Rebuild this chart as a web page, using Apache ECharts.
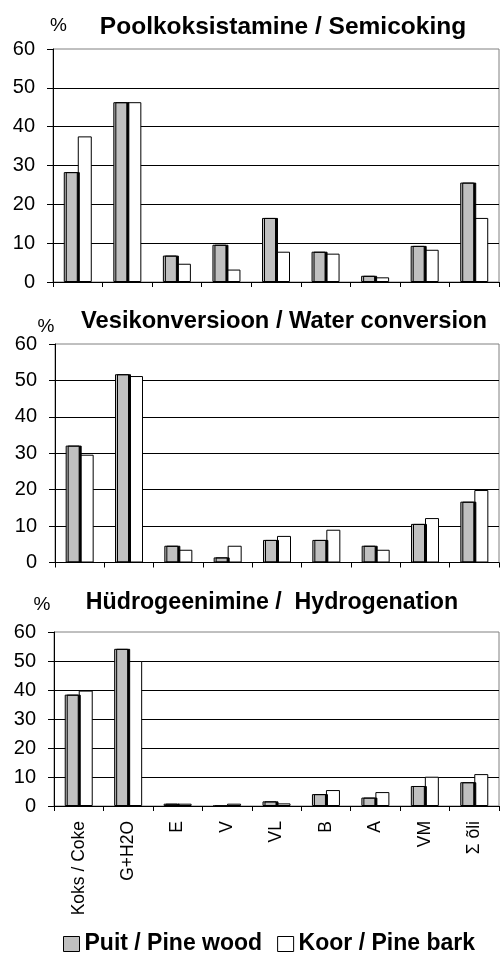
<!DOCTYPE html>
<html>
<head>
<meta charset="utf-8">
<script src="https://cdn.jsdelivr.net/npm/echarts@6/dist/echarts.min.js"></script>
<style>
  html, body { margin: 0; padding: 0; background: #fff; }
  #chart { width: 500px; height: 955px; }
</style>
</head>
<body>
<div id="chart"></div>
<script>
// Product yields (%) of pine wood and pine bark under three processes
const categories = ['Koks / Coke', 'G+H2O', 'E', 'V', 'VL', 'B', 'A', 'VM', 'Σ õli'];

const semicokingWood = [28.3, 46.3, 6.8, 9.6, 16.5, 7.8, 1.6, 9.3, 25.6];
const semicokingBark = [37.5, 46.3, 4.7, 3.2, 7.8, 7.3, 1.2, 8.3, 16.5];

const waterWood = [32.1, 51.7, 4.6, 1.4, 6.2, 6.2, 4.6, 10.6, 16.7];
const waterBark = [29.6, 51.2, 3.5, 4.6, 7.3, 9.0, 3.5, 12.2, 19.9];

const hydroWood = [38.4, 54.2, 0.8, 0, 1.6, 4.1, 2.9, 6.9, 8.2];
const hydroBark = [39.8, 50.0, 0.8, 0.8, 0.9, 5.5, 4.8, 10.1, 11.0];

const yMin = 0, yMax = 60, yStep = 10;

const panelTitles = ['Poolkoksistamine / Semicoking', 'Vesikonversioon / Water conversion', 'Hüdrogeenimine /  Hydrogenation'];
const seriesNames = ['Puit / Pine wood', 'Koor / Pine bark'];

const FONT = '"Liberation Sans", Arial, sans-serif';

const grids = [
  { left: 53, top: 49, right: 1, height: 233 },
  { left: 55, top: 344, right: 1, height: 218.5 },
  { left: 54, top: 632, right: 1, height: 174 }
];

const panels = [
  [semicokingWood, semicokingBark],
  [waterWood, waterBark],
  [hydroWood, hydroBark]
];

const xAxes = grids.map((g, i) => ({
  type: 'category',
  gridIndex: i,
  data: categories,
  axisLine: { lineStyle: { color: '#000', width: 1 } },
  axisTick: { show: true, length: 5, lineStyle: { color: '#000' } },
  axisLabel: {
    show: i === 2,
    rotate: 90,
    margin: 15,
    color: '#000',
    fontFamily: FONT,
    fontSize: 17.5
  },
  splitLine: { show: false }
}));

const yAxes = grids.map((g, i) => ({
  type: 'value',
  gridIndex: i,
  min: yMin,
  max: yMax,
  interval: yStep,
  axisLine: { show: true, lineStyle: { color: '#000', width: 1 } },
  axisTick: { show: true, length: 6, lineStyle: { color: '#000' } },
  axisLabel: { margin: 18, color: '#000', fontFamily: FONT, fontSize: 20 },
  splitLine: { show: true, showMaxLine: false, lineStyle: { color: '#000', width: 1 } }
}));

const woodStyle = {
  color: '#c0c0c0',
  borderColor: '#000',
  borderWidth: 1,
  shadowColor: '#000',
  shadowBlur: 0,
  shadowOffsetX: 2,
  shadowOffsetY: 0
};
const barkStyle = { color: '#ffffff', borderColor: '#000', borderWidth: 1 };

const series = [];
panels.forEach((pair, i) => {
  series.push({
    name: seriesNames[0],
    type: 'bar',
    xAxisIndex: i,
    yAxisIndex: i,
    data: pair[0],
    barWidth: 14,
    barGap: '0%',
    z: 3,
    itemStyle: woodStyle,
    emphasis: { disabled: true },
    animation: false
  });
  series.push({
    name: seriesNames[1],
    type: 'bar',
    xAxisIndex: i,
    yAxisIndex: i,
    data: pair[1],
    barWidth: 14,
    barGap: '0%',
    z: 2,
    itemStyle: barkStyle,
    emphasis: { disabled: true },
    animation: false
  });
});

// Panel titles and the "%" unit marks
const titleSpecs = [
  { x: 283, y: 27, size: 24.5 },
  { x: 284, y: 321.5, size: 23.7 },
  { x: 272, y: 603, size: 23.2 }
];
const unitSpecs = [
  { x: 58.5, y: 26 },
  { x: 46, y: 327 },
  { x: 42, y: 605 }
];

const graphics = [];
titleSpecs.forEach((t, i) => {
  graphics.push({
    type: 'text',
    x: t.x,
    y: t.y,
    style: {
      text: panelTitles[i],
      fill: '#000',
      font: `bold ${t.size}px ${FONT}`,
      textAlign: 'center',
      textVerticalAlign: 'middle'
    }
  });
});
unitSpecs.forEach((u) => {
  graphics.push({
    type: 'text',
    x: u.x,
    y: u.y,
    style: {
      text: '%',
      fill: '#000',
      font: `19px ${FONT}`,
      textAlign: 'center',
      textVerticalAlign: 'middle'
    }
  });
});

const chart = echarts.init(document.getElementById('chart'), null, { renderer: 'canvas' });
chart.setOption({
  animation: false,
  backgroundColor: '#fff',
  grid: grids.map(g => Object.assign({ show: true, borderColor: '#808080', borderWidth: 1, backgroundColor: 'transparent' }, g)),
  xAxis: xAxes,
  yAxis: yAxes,
  legend: {
    left: 63,
    top: 932,
    padding: 0,
    itemWidth: 16,
    itemHeight: 15,
    itemGap: 15,
    icon: 'rect',
    selectedMode: false,
    data: [
      { name: seriesNames[0], itemStyle: { color: '#c0c0c0', borderColor: '#000', borderWidth: 1, shadowColor: 'transparent', shadowOffsetX: 0 } },
      { name: seriesNames[1], itemStyle: { color: '#ffffff', borderColor: '#000', borderWidth: 1 } }
    ],
    textStyle: { color: '#000', fontFamily: FONT, fontWeight: 'bold', fontSize: 23, lineHeight: 24 }
  },
  graphic: graphics,
  series: series
});
</script>
</body>
</html>
